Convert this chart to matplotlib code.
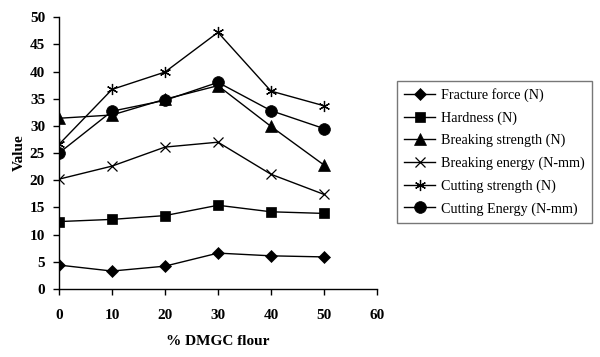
import matplotlib
matplotlib.use("Agg")
import matplotlib.pyplot as plt

plt.rcParams['font.family'] = ['Liberation Serif', 'DejaVu Serif']

x = [0, 10, 20, 30, 40, 50]
fracture_force = [4.4, 3.3, 4.2, 6.6, 6.1, 5.9]
hardness = [12.4, 12.8, 13.5, 15.4, 14.2, 13.9]
breaking_strength = [31.4, 32.0, 34.9, 37.4, 29.9, 22.8]
breaking_energy = [20.2, 22.6, 26.1, 27.0, 21.1, 17.4]
cutting_strength = [26.6, 36.7, 39.9, 47.2, 36.4, 33.7]
cutting_energy = [25.0, 32.7, 34.7, 38.0, 32.8, 29.5]

labels = ["Fracture force (N)", "Hardness (N)", "Breaking strength (N)",
          "Breaking energy (N-mm)", "Cutting strength (N)", "Cutting Energy (N-mm)"]
series = [fracture_force, hardness, breaking_strength, breaking_energy,
          cutting_strength, cutting_energy]
markers = ['D', 's', '^', 'x', (6, 2, 0), 'o']
sizes = [6.5, 7.5, 8.5, 7, 8, 8.5]

fig = plt.figure(figsize=(6, 3.57), dpi=100)
ax = fig.add_axes([0.0983, 0.1905, 0.53, 0.7615])

for s, lab, m, ms in zip(series, labels, markers, sizes):
    ax.plot(x, s, color='black', lw=1, marker=m, markersize=ms,
            markeredgewidth=0.9 if m in ('x', (6, 2, 0)) else 0.5,
            markerfacecolor='black', markeredgecolor='black', label=lab)

ax.set_xlim(0, 60)
ax.set_ylim(0, 50)
ax.set_xticks(range(0, 61, 10))
ax.set_yticks(range(0, 51, 5))
for sp in ['top', 'right']:
    ax.spines[sp].set_visible(False)
for sp in ['left', 'bottom']:
    ax.spines[sp].set_linewidth(1)
ax.tick_params(direction='out', length=4, width=1, labelsize=11, pad=6)
ax.tick_params(axis='x', pad=10.5)
for t in ax.get_xticklabels() + ax.get_yticklabels():
    t.set_fontweight('bold')
ax.set_xlabel('% DMGC flour', fontsize=11, fontweight='bold', labelpad=9.5)
ax.set_ylabel('Value', fontsize=11, fontweight='bold', labelpad=3)

leg = ax.legend(loc='upper left', bbox_to_anchor=(397 / 600, 1 - 81 / 357),
                bbox_transform=fig.transFigure, frameon=True, fancybox=False,
                fontsize=10.2, labelspacing=0.65, handlelength=2.2,
                handletextpad=0.4, borderpad=0.5, borderaxespad=0)
leg.get_frame().set_edgecolor('#555555')
leg.get_frame().set_linewidth(1)

fig.savefig('out.png', dpi=100)
